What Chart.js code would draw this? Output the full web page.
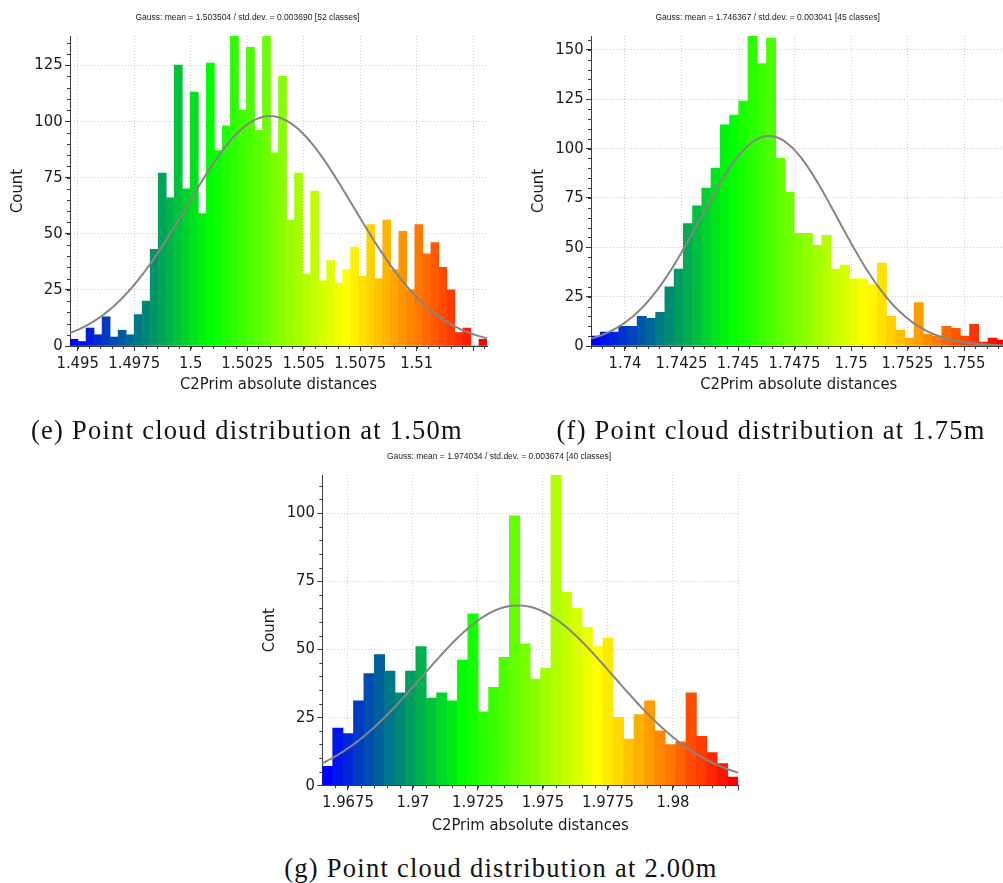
<!DOCTYPE html>
<html>
<head>
<meta charset="utf-8">
<script src="https://cdn.jsdelivr.net/npm/chart.js@4.4.1/dist/chart.umd.min.js"></script>
<style>
  html, body { margin: 0; padding: 0; background: #fff; overflow: hidden; }
  body { position: relative; width: 1003px; height: 883px; }
  canvas { position: absolute; }
  .caption {
    position: absolute;
    font-family: 'Liberation Serif', 'DejaVu Serif', serif;
    font-size: 26.5px;
    line-height: 26px;
    letter-spacing: 1.25px;
    color: #111;
    white-space: nowrap;
    transform: translateX(-50%);
  }
</style>
</head>
<body>
<canvas id="histE" width="490" height="400" style="left:0;top:0"></canvas>
<canvas id="histF" width="509" height="400" style="left:500px;top:0"></canvas>
<canvas id="histG" width="485" height="400" style="left:256px;top:437px"></canvas>
<div class="caption" style="left:247px;top:417px">(e) Point cloud distribution at 1.50m</div>
<div class="caption" style="left:771px;top:417px">(f) Point cloud distribution at 1.75m</div>
<div class="caption" style="left:501px;top:855px">(g) Point cloud distribution at 2.00m</div>
<script>
// histogram counts per class, left to right
const countsE = [3, 2, 8, 5, 13, 4, 7, 5, 14, 20,
  43, 77, 66, 125, 70, 113, 59, 126, 87, 98,
  138, 105, 133, 96, 138, 86, 120, 56, 77, 32,
  69, 29, 38, 28, 34, 44, 31, 54, 30, 56,
  34, 51, 25, 54, 41, 46, 35, 25, 6, 8,
  0, 3];
const countsF = [5, 7, 7, 10, 10, 15, 14, 17, 30, 39,
  62, 71, 80, 90, 112, 117, 124, 157, 143, 156,
  95, 78, 57, 57, 51, 56, 39, 41, 34, 34,
  31, 42, 15, 8, 4, 22, 6, 5, 10, 9,
  5, 11, 2, 4, 3];
const countsG = [7, 21, 19, 31, 41, 48, 42, 34, 42, 51,
  32, 34, 31, 46, 63, 27, 36, 47, 99, 52,
  39, 43, 114, 71, 65, 58, 51, 54, 25, 17,
  26, 31, 20, 15, 16, 34, 18, 12, 8, 3];

// distance range covered by the classes
const rangeE = [1.494659, 1.513111];
const rangeF = [1.738496, 1.756876];
const rangeG = [1.966512, 1.982500];

// fitted gaussian [mean, std.dev.]
const gaussE = [1.503504, 0.003690];
const gaussF = [1.746367, 0.003041];
const gaussG = [1.974034, 0.003674];

// axis ticks
const xTicksE = [1.495, 1.4975, 1.5, 1.5025, 1.505, 1.5075, 1.51, 1.5125];
const xLabelsE = ['1.495', '1.4975', '1.5', '1.5025', '1.505', '1.5075', '1.51', ''];
const xTicksF = [1.74, 1.7425, 1.745, 1.7475, 1.75, 1.7525, 1.755];
const xLabelsF = ['1.74', '1.7425', '1.745', '1.7475', '1.75', '1.7525', '1.755'];
const xTicksG = [1.9675, 1.97, 1.9725, 1.975, 1.9775, 1.98, 1.9825];
const xLabelsG = ['1.9675', '1.97', '1.9725', '1.975', '1.9775', '1.98', ''];
const yTicksE = [0, 25, 50, 75, 100, 125];
const yTicksF = [0, 25, 50, 75, 100, 125, 150];
const yTicksG = [0, 25, 50, 75, 100];

const FONT = "'DejaVu Sans Condensed', 'DejaVu Sans', Verdana, sans-serif";
const TEXT = '#1a1a1a';
const AXIS = '#3a3a3a';
const GRID = '#cdcdcd';

// blue > green > yellow > red colour scale
function rampColor(t) {
  let r, g, b;
  if (t < 1 / 3) { r = 0; g = 765 * t; b = 255 - 765 * t; }
  else if (t < 2 / 3) { r = 765 * t - 255; g = 255; b = 0; }
  else { r = 255; g = 765 - 765 * t; b = 0; }
  return `rgb(${Math.round(r)}, ${Math.round(g)}, ${Math.round(b)})`;
}

// normal curve scaled to the histogram area
function gaussCurve(counts, range, gauss) {
  const [lo, hi] = range;
  const [mu, sd] = gauss;
  const w = (hi - lo) / counts.length;
  const n = counts.reduce((a, b) => a + b, 0);
  const peak = n * w / (sd * Math.sqrt(2 * Math.PI));
  const pts = [];
  for (let i = 0; i <= 240; i++) {
    const x = lo + (hi - lo) * i / 240;
    pts.push({ x: x, y: peak * Math.exp(-0.5 * Math.pow((x - mu) / sd, 2)) });
  }
  return pts;
}

// small ticks between the labelled ones
const minorTicks = {
  id: 'minorTicks',
  afterDraw(chart, args, opts) {
    const { ctx, scales: { x, y } } = chart;
    ctx.save();
    ctx.strokeStyle = AXIS;
    ctx.lineWidth = 1;
    ctx.beginPath();
    for (let k = Math.ceil(x.min / opts.x - 1e-6); k * opts.x <= x.max + 1e-9; k++) {
      const px = Math.round(x.getPixelForValue(k * opts.x)) + 0.5;
      ctx.moveTo(px, y.bottom);
      ctx.lineTo(px, y.bottom + 3);
    }
    for (let v = 0; v <= y.max; v += opts.y) {
      const py = Math.round(y.getPixelForValue(v)) + 0.5;
      ctx.moveTo(x.left - 3, py);
      ctx.lineTo(x.left, py);
    }
    ctx.stroke();
    ctx.restore();
  }
};

function histogram(id, h) {
  const [lo, hi] = h.range;
  const w = (hi - lo) / h.counts.length;
  const bars = h.counts.map((c, i) => ({ x: lo + (i + 0.5) * w, y: c }));
  const colors = h.counts.map((c, i) => rampColor(i / (h.counts.length - 1)));
  const tickFont = { family: FONT, size: 16.5 };

  return new Chart(document.getElementById(id), {
    type: 'bar',
    data: {
      datasets: [
        {
          type: 'line',
          data: gaussCurve(h.counts, h.range, h.gauss),
          borderColor: '#858585',
          borderWidth: 2,
          pointRadius: 0,
          order: 0
        },
        {
          type: 'bar',
          data: bars,
          backgroundColor: colors,
          borderWidth: 0,
          barPercentage: 1,
          categoryPercentage: 1,
          order: 1
        }
      ]
    },
    options: {
      responsive: false,
      animation: false,
      devicePixelRatio: 1,
      layout: { padding: h.pad },
      plugins: {
        legend: { display: false },
        tooltip: { enabled: false },
        title: {
          display: true,
          text: h.title,
          color: TEXT,
          font: { family: "'Liberation Sans Narrow', 'Liberation Sans', sans-serif", size: 8.5, weight: 'normal' },
          padding: h.titlePad
        },
        minorTicks: { x: 0.0005, y: 5 }
      },
      scales: {
        x: {
          type: 'linear',
          min: lo,
          max: hi,
          offset: false,
          afterBuildTicks: s => { s.ticks = h.xTicks.map(v => ({ value: v })); },
          afterFit: s => { s.height = h.xAxisHeight; },
          ticks: {
            callback: (v, i) => h.xLabels[i],
            autoSkip: false,
            maxRotation: 0,
            color: TEXT,
            font: tickFont,
            padding: 3
          },
          grid: { color: GRID, offset: false, tickLength: 5, tickColor: AXIS, tickBorderDash: [] },
          border: { color: AXIS, dash: [1, 2] },
          title: { display: true, text: 'C2Prim absolute distances', color: TEXT, font: tickFont, padding: 0 }
        },
        y: {
          min: 0,
          max: Math.max(...h.counts),
          afterBuildTicks: s => { s.ticks = h.yTicks.map(v => ({ value: v })); },
          afterFit: s => { s.width = h.yAxisWidth; },
          ticks: { color: TEXT, font: tickFont, padding: 2.3 },
          grid: { color: GRID, tickLength: 5, tickColor: AXIS, tickBorderDash: [] },
          border: { color: AXIS, dash: [1, 2] },
          title: { display: true, text: 'Count', color: TEXT, font: tickFont, padding: 0 }
        }
      }
    },
    plugins: [minorTicks]
  });
}

histogram('histE', {
  counts: countsE, range: rangeE, gauss: gaussE,
  xTicks: xTicksE, xLabels: xLabelsE, yTicks: yTicksE,
  title: 'Gauss: mean = 1.503504 / std.dev. = 0.003690 [52 classes]',
  pad: { left: 8.1, right: 3, top: 0, bottom: 5.1 },
  titlePad: { top: 13, bottom: 12.8 },
  yAxisWidth: 61.9, xAxisHeight: 48.9
});

histogram('histF', {
  counts: countsF, range: rangeF, gauss: gaussF,
  xTicks: xTicksF, xLabels: xLabelsF, yTicks: yTicksF,
  title: 'Gauss: mean = 1.746367 / std.dev. = 0.003041 [45 classes]',
  pad: { left: 28.8, right: 2.5, top: 0, bottom: 5.1 },
  titlePad: { top: 13, bottom: 12.8 },
  yAxisWidth: 62.2, xAxisHeight: 48.9
});

histogram('histG', {
  counts: countsG, range: rangeG, gauss: gaussG,
  xTicks: xTicksG, xLabels: xLabelsG, yTicks: yTicksG,
  title: 'Gauss: mean = 1.974034 / std.dev. = 0.003674 [40 classes]',
  pad: { left: 3.8, right: 2.7, top: 0, bottom: 1.1 },
  titlePad: { top: 14.9, bottom: 12.9 },
  yAxisWidth: 62.5, xAxisHeight: 50.6
});
</script>
</body>
</html>
